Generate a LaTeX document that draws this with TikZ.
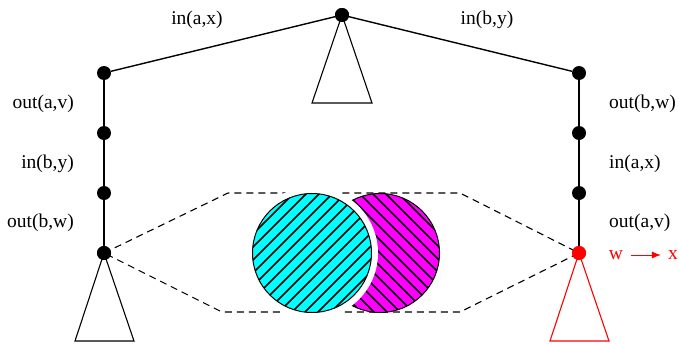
\documentclass[tikz,border=0pt]{standalone}
\usepackage{fontspec}
\setmainfont{Liberation Serif}
\usetikzlibrary{arrows.meta}
\definecolor{cyanfill}{RGB}{0,255,255}
\definecolor{magentafill}{RGB}{255,0,255}
\definecolor{redfill}{RGB}{255,0,0}
\begin{document}
\begin{tikzpicture}[x=1pt,y=-1pt,
  dot/.style={circle,fill=black,inner sep=0pt,minimum size=14pt},
  reddot/.style={circle,fill=redfill,inner sep=0pt,minimum size=14pt},
  treeline/.style={line width=1.4pt},
  tri/.style={line width=1.1pt},
  dashline/.style={dash pattern=on 7pt off 5pt,line width=1.1pt},
  lab/.style={font=\fontsize{19.5}{22}\selectfont,inner sep=0pt},
  hatch/.style={line width=1.7pt,black}]
\useasboundingbox (0,0) rectangle (679,343);
% nodes
\node[dot] (t) at (342,15) {};
\node[dot] (l1) at (104,73) {};
\node[dot] (l2) at (104,133) {};
\node[dot] (l3) at (104,193) {};
\node[dot] (l4) at (104,253) {};
\node[dot] (r1) at (579,73) {};
\node[dot] (r2) at (579,133) {};
\node[dot] (r3) at (579,193) {};
\coordinate (r4c) at (579,253);
% dashed hexagon corners
\coordinate (h1) at (228,193);
\coordinate (h2) at (460,193);
\coordinate (h3) at (460,312);
\coordinate (h4) at (222,312);
\draw[dashline] (l4.center) -- (h1) -- (h2) -- (r4c) -- (h3) -- (h4) -- cycle;
% circles
\fill[magentafill] (380,253) circle (59.5);
\begin{scope}
\clip (380,253) circle (59.5);
\foreach \t in {-130,-117,...,130} {
  \draw[hatch] (380+\t-80,253-80) -- (380+\t+80,253+80);
}
\end{scope}
\draw[line width=1pt] (380,253) circle (59.5);
\fill[white] (312,253) circle (66);
\fill[cyanfill] (312,253) circle (59.5);
\begin{scope}
\clip (312,253) circle (59.5);
\foreach \t in {-130,-117,...,130} {
  \draw[hatch] (312+\t-80,253+80) -- (312+\t+80,253-80);
}
\end{scope}
\draw[line width=1pt] (312,253) circle (59.5);
\node[reddot] (r4) at (r4c) {};
% tree edges
\draw[treeline] (l1) -- (t) -- (r1);
\draw[treeline] (l1) -- (l2) -- (l3) -- (l4);
\draw[treeline] (r1) -- (r2) -- (r3) -- (r4);
% triangles
\draw[tri] (t.center) -- (312,103) -- (372,103) -- cycle;
\draw[tri] (l4.center) -- (75,341) -- (134,341) -- cycle;
\draw[tri,redfill] (r4.center) -- (550,341) -- (609,341) -- cycle;
\node[dot] at (t) {};
\node[dot] at (l4) {};
\node[reddot] at (r4) {};
% labels
\node[lab] (la) at (197,20) {in(a,x)};
\node[lab] (lb) at (487,20) {in(b,y)};
\node[lab,anchor=east] (lo1) at (74,104) {out(a,v)};
\node[lab,anchor=east] (lo2) at (74,164) {in(b,y)};
\node[lab,anchor=east] (lo3) at (74,223) {out(b,w)};
\node[lab,anchor=west] (ro1) at (609,104) {out(b,w)};
\node[lab,anchor=west] (ro2) at (609,164) {in(a,x)};
\node[lab,anchor=west] (ro3) at (609,223) {out(a,v)};
\node[lab,text=redfill] (w) at (616,255) {w};
\node[lab,text=redfill] (x) at (673,255) {x};
\draw[redfill,line width=0.9pt,-{Latex[length=9pt,width=7pt]}] ([xshift=8pt]w.east) -- ([xshift=-7pt]x.west);
\end{tikzpicture}
\end{document}
